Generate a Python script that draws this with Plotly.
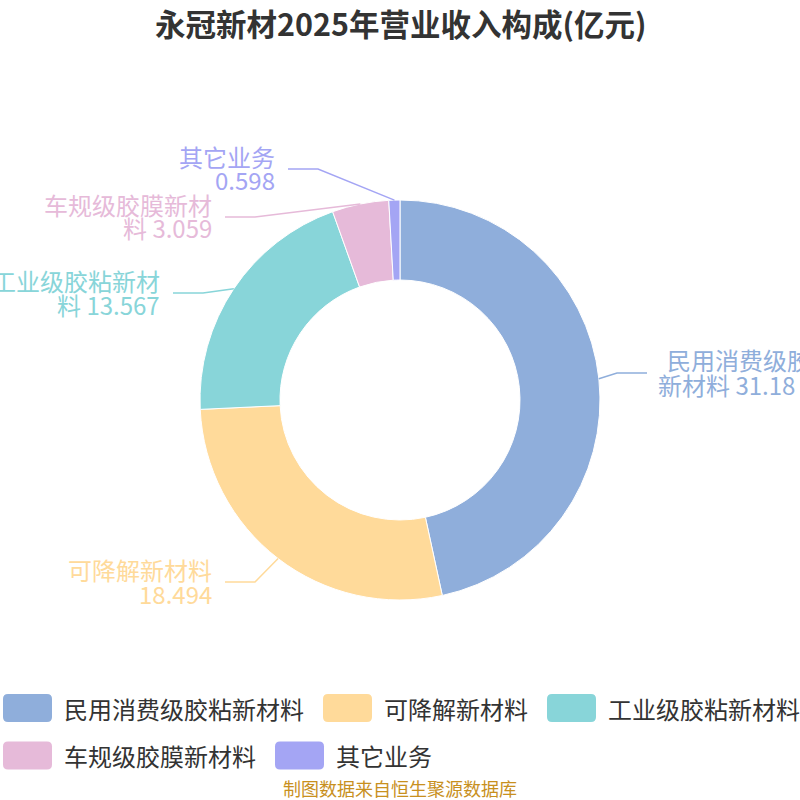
import numpy as np
import plotly.graph_objects as go

W, H = 800, 800
FONT = "Noto Sans CJK SC"

# ---------- 数据 ----------
names = ["民用消费级胶粘新材料", "可降解新材料", "工业级胶粘新材料", "车规级胶膜新材料", "其它业务"]
values = [31.18, 18.494, 13.567, 3.059, 0.598]
colors = ["#8FAEDB", "#FFDA9A", "#88D5D9", "#E6BAD9", "#A4A5F4"]
title = "永冠新材2025年营业收入构成(亿元)"
source = "制图数据来自恒生聚源数据库"

# ---------- 标签布局(像素, 仅样式) ----------
# 引导线拐点 (x, y) 与方向
label_anchor = [(617, 373, 1), (255, 582, -1), (203, 293, -1), (255, 217, -1), (318, 169, -1)]
CX, CY, R = 400, 400, 200


def p(x, y):
    return x / W, 1 - y / H


d0 = p(CX - R, CY + R)
d1 = p(CX + R, CY - R)
fig = go.Figure(go.Pie(
    labels=names, values=values, hole=0.6, sort=False,
    direction="clockwise", rotation=0,
    marker=dict(colors=colors, line=dict(color="white", width=1)),
    textinfo="none", hoverinfo="label+value", showlegend=False,
    domain=dict(x=[d0[0], d1[0]], y=[d0[1], d1[1]]),
))

shapes, annos = [], []

# 引导线 + 标签
total = sum(values)
cum = np.cumsum([0] + values[:-1])
for i, (nm, v) in enumerate(zip(names, values)):
    th = np.deg2rad((cum[i] + v / 2) / total * 360)
    sx, sy = CX + R * np.sin(th), CY - R * np.cos(th)
    ex, ey, side = label_anchor[i]
    tx = ex + side * 30
    pts = [p(sx, sy), p(ex, ey), p(tx, ey)]
    path = "M {},{} L {},{} L {},{}".format(*[c for pt in pts for c in pt])
    shapes.append(dict(type="path", path=path, xref="paper", yref="paper",
                       line=dict(color=colors[i], width=1.5)))
    if len(nm) <= 7:
        l1, l2 = nm, f"{v:g}"
    else:
        l1, l2 = nm[:7], nm[7:] + " " + f"{v:g}"
    txt_x = tx + side * 11
    for j, (ln, dy) in enumerate([(l1, -13), (l2, 11)]):
        x = txt_x + (7 if side > 0 and j == 0 else -2 if side > 0 else 0)
        ax, ay = p(x, ey + dy)
        annos.append(dict(x=ax, y=ay, xref="paper", yref="paper", text=ln, showarrow=False,
                          xanchor="left" if side > 0 else "right", yanchor="middle",
                          font=dict(family=FONT, size=24, color=colors[i])))

# 标题
tx_, ty_ = p(401, 23)
annos.append(dict(x=tx_, y=ty_, xref="paper", yref="paper", text=f"<b>{title}</b>", showarrow=False,
                  xanchor="center", yanchor="middle", font=dict(family=FONT, size=30.5, color="#333333")))

# 图例(圆角色块)
def rrect(x0, y0, x1, y1, r=5):
    seq = [("M", x0 + r, y0), ("L", x1 - r, y0), ("Q", x1, y0, x1, y0 + r), ("L", x1, y1 - r),
           ("Q", x1, y1, x1 - r, y1), ("L", x0 + r, y1), ("Q", x0, y1, x0, y1 - r),
           ("L", x0, y0 + r), ("Q", x0, y0, x0 + r, y0)]
    out = []
    for s in seq:
        cs = s[1:]
        pts = []
        for k in range(0, len(cs), 2):
            a, b = p(cs[k], cs[k + 1])
            pts.append(f"{a},{b}")
        out.append(s[0] + " " + " ".join(pts))
    return " ".join(out) + " Z"

rows = [[0, 1, 2], [3, 4]]
row_y = [708, 755.5]
for ry, row in zip(row_y, rows):
    x = 3
    for i in row:
        shapes.append(dict(type="path", path=rrect(x, ry - 14, x + 49, ry + 14), xref="paper", yref="paper",
                           fillcolor=colors[i], line=dict(width=0)))
        lx, ly = p(x + 59, ry)
        annos.append(dict(x=lx, y=ly, xref="paper", yref="paper", text=names[i], showarrow=False,
                          xanchor="left", yanchor="middle", font=dict(family=FONT, size=24, color="#333333")))
        x = x + 59 + len(names[i]) * 24 + 21

# 数据来源
sx_, sy_ = p(400, 788)
annos.append(dict(x=sx_, y=sy_, xref="paper", yref="paper", text=source, showarrow=False,
                  xanchor="center", yanchor="middle", font=dict(family=FONT, size=18, color="#C8901E")))

fig.update_layout(width=W, height=H, margin=dict(l=0, r=0, t=0, b=0),
                  paper_bgcolor="white", plot_bgcolor="white", showlegend=False,
                  shapes=shapes, annotations=annos)

# 去掉页面默认边距, 让 800x800 画布正好铺满窗口
fig.write_html("out.html", config={"displayModeBar": False},
               post_script="document.body.style.margin='0';document.body.style.overflow='hidden';")
